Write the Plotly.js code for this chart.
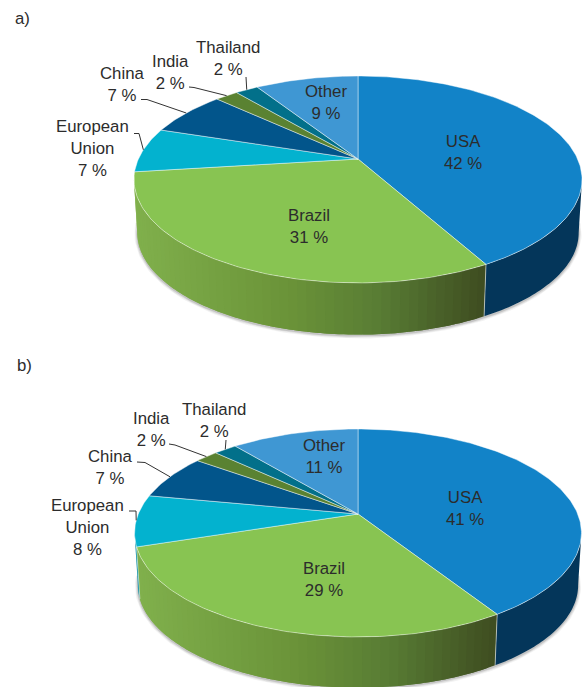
<!DOCTYPE html>
<html>
<head>
<meta charset="utf-8">
<script src="https://cdn.plot.ly/plotly-3.0.1.min.js"></script>
<style>html,body{margin:0;padding:0;background:#fff}#chart{width:583px;height:687px}</style>
</head>
<body>
<div id="chart"></div>
<script>
// ---- data ----
const categories = ["USA", "Brazil", "European Union", "China", "India", "Thailand", "Other"];
const valuesA = [42, 31, 7, 7, 2, 2, 9];
const valuesB = [41, 29, 8, 7, 2, 2, 11];
const panelTitles = ["a)", "b)"];

// ---- styles ----
const topColors = ["#1283c8", "#88c452", "#03b2cf", "#02558b", "#5a8232", "#02708a", "#3f97d3"];
const sideColors = ["#04365a", null, "#028aa0", "#023a60", "#3f5c22", "#024e60", "#2a6a96"];
const greenSideStops = [[0, [128,176,76]], [0.45, [106,146,56]], [0.7, [88,124,52]], [1, [62,76,32]]];
const textColor = "#2c2c2c";
const fontFamily = '"Liberation Sans", Arial, sans-serif';

// ---- tilted-disc geometry of each panel ----
const geomA = {cx:358, cy:159, R:219.6, Rv:99.4, k:0.198, depth:53.5, shrink:0.985};
const geomB = {cx:358, cy:514, R:219.7, Rv:100.5, k:0.1827, depth:52.5, shrink:0.985};

// ---- label placement ----
const labelsA = [[463,152],[309,226.5],[92,148.5],[122,84.5],[170,72],[228,58.5],[326,102.5]];
const labelsB = [[465,508.5],[324,579.5],[87,527.5],[110,467.5],[151,429],[214,420.5],[324,456]];
const elbowsA = {2:[[134,133.5],[139,133.5]], 3:[[141,99.5],[147,99.5]], 4:[[189,87],[194,87.5]], 5:[[246,77]]};
const elbowsB = {2:[[129,511],[136,511]], 3:[[137,462],[145,462.5]], 4:[[169,444],[175,445]], 5:[[226,440]]};
const titlePos = [[22,18],[24,365]];

function project(g, theta, lower){
  const u = Math.sin(theta), v = -Math.cos(theta), s = 1/(1 - g.k*v);
  const f = lower ? g.shrink : 1;
  return [g.cx + g.R*u*s*f, g.cy + (lower ? g.depth : 0) + g.Rv*v*s*f];
}
function arc(g, a0, a1, lower){
  const n = Math.max(2, Math.ceil(Math.abs(a1-a0)/(Math.PI/180)));
  const pts = [];
  for(let i=0;i<=n;i++) pts.push(project(g, a0+(a1-a0)*i/n, lower));
  return pts;
}
function greenAt(f){
  f = Math.min(1, Math.max(0, f));
  for(let i=1;i<greenSideStops.length;i++){
    const [p1,c1] = greenSideStops[i], [p0,c0] = greenSideStops[i-1];
    if(f<=p1){
      const t=(f-p0)/(p1-p0);
      return "rgb("+c0.map((c,j)=>Math.round(c+(c1[j]-c)*t)).join(",")+")";
    }
  }
}
function poly(pts, fill, name, line){
  const closed = pts.concat([pts[0]]);
  const t = {type:"scatter", x:closed.map(p=>p[0]), y:closed.map(p=>p[1]), fill:"toself",
    fillcolor:fill, name:name, hoverinfo:"name", showlegend:false};
  if(line){ t.mode="lines"; t.line=line; } else { t.mode="none"; }
  return t;
}
function path(pts, color, width, name){
  return {type:"scatter", mode:"lines", x:pts.map(p=>p[0]), y:pts.map(p=>p[1]),
    line:{color:color, width:width}, hoverinfo:"skip", showlegend:false, name:name||""};
}

const traces = [], annotations = [];

function buildPie(values, g, labels, elbows){
  const total = values.reduce((a,b)=>a+b,0);
  const TWO = 2*Math.PI;
  const edges = [0];
  values.forEach(v=>edges.push(edges[edges.length-1]+v/total*TWO));
  const visA = Math.acos(-g.k), visB = TWO - visA;   // silhouette of the disc

  // soft shadow under the rim
  const under = arc(g, visA-0.1, visB+0.1, true);
  [[6,0.05],[4,0.07],[2,0.12]].forEach(([w,o])=>{
    traces.push(path(under.map(p=>[p[0],p[1]+1]), "rgba(0,0,0,"+o+")", w));
  });

  // visible rim
  values.forEach((v,i)=>{
    const a0 = Math.max(edges[i], visA), a1 = Math.min(edges[i+1], visB);
    if(a1<=a0) return;
    if(sideColors[i]){
      const pts = arc(g,a0,a1,false).concat(arc(g,a1,a0,true));
      traces.push(poly(pts, sideColors[i], categories[i]+" side"));
    } else {
      // gradient face: overlapping strips, painted in angle order
      const xL = project(g, a1, false)[0], xR = project(g, a0, false)[0];
      const n = Math.ceil((a1-a0)/(Math.PI/90));
      for(let j=0;j<n;j++){
        const t0=a0+(a1-a0)*j/n, t1=Math.min(a1, a0+(a1-a0)*(j+2)/n);
        const mid=a0+(a1-a0)*(j+0.5)/n;
        const pts=arc(g,t0,t1,false).concat(arc(g,t1,t0,true));
        const f=(project(g,mid,false)[0]-xL)/(xR-xL);
        traces.push(poly(pts, greenAt(f), categories[i]+" side"));
      }
    }
  });
  // seam between visible rim faces
  edges.forEach(e=>{
    if(e>visA && e<visB){
      traces.push(path([project(g,e,false),project(g,e,true)], "rgba(255,255,255,0.65)", 0.8));
    }
  });

  // top surface
  values.forEach((v,i)=>{
    const pts = [[g.cx,g.cy]].concat(arc(g,edges[i],edges[i+1],false));
    traces.push(poly(pts, topColors[i], categories[i], {color:"rgba(255,255,255,0.55)", width:0.8}));
  });

  // labels
  values.forEach((v,i)=>{
    const txt = categories[i].replace(" ","<br>")+"<br>"+v+" %";
    annotations.push({x:labels[i][0], y:labels[i][1], xref:"x", yref:"y", text:txt, showarrow:false,
      xanchor:"center", yanchor:"middle", align:"center",
      font:{family:fontFamily, size:16.8, color:textColor}});
  });

  // leader lines end on the rim at the middle of their slice
  Object.keys(elbows).forEach(k=>{
    const i=+k, mid=(edges[i]+edges[i+1])/2;
    const pts = elbows[k].concat([project(g,mid,false)]);
    traces.push(path(pts, "#333333", 1));
  });
}

buildPie(valuesA, geomA, labelsA, elbowsA);
buildPie(valuesB, geomB, labelsB, elbowsB);

panelTitles.forEach((t,i)=>{
  annotations.push({x:titlePos[i][0], y:titlePos[i][1], xref:"x", yref:"y", text:t, showarrow:false,
    xanchor:"center", yanchor:"middle", font:{family:fontFamily, size:16.8, color:textColor}});
});

Plotly.newPlot("chart", traces, {
  width:583, height:687, margin:{l:0,r:0,t:0,b:0}, paper_bgcolor:"#fff", plot_bgcolor:"#fff",
  showlegend:false, annotations:annotations,
  xaxis:{range:[0,583], visible:false, fixedrange:true},
  yaxis:{range:[687,0], visible:false, fixedrange:true}
}, {displayModeBar:false, staticPlot:true});
</script>
</body>
</html>
